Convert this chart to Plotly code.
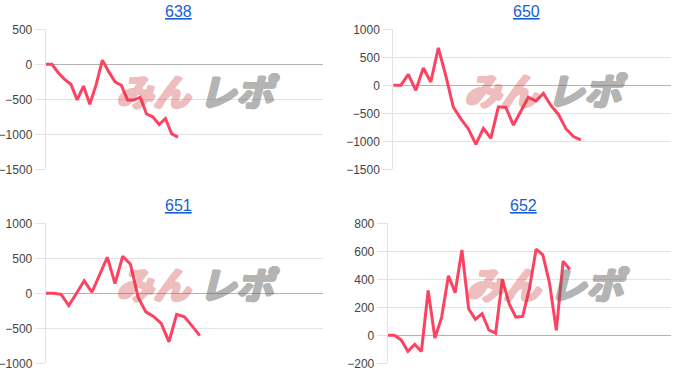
import plotly.graph_objects as go

titles = ["638", "650", "651", "652"]
s638 = [0, 0, -120, -215, -285, -510, -310, -570, -290, 60, -105, -250, -300, -510,
        -510, -470, -710, -750, -860, -775, -995, -1040]
s650 = [0, 0, 195, -90, 310, 60, 670, 170, -390, -600, -775, -1055, -770, -945, -385,
        -395, -710, -470, -215, -280, -145, -360, -520, -775, -915, -975]
s651 = [0, 0, -15, -175, 0, 180, 15, 270, 515, 140, 530, 415, -55, -265, -330, -430,
        -695, -300, -335, -465, -605]
s652 = [0, 0, -33, -115, -65, -115, 320, -20, 130, 425, 305, 610, 190, 115, 155, 38, 15,
        400, 225, 130, 135, 330, 615, 575, 370, 35, 530, 470]
series = [s638, s650, s651, s652]
x_max = [44, 37, 36, 42]
y_ranges = [[-1500, 500], [-1500, 1000], [-1000, 1000], [-200, 800]]
y_dticks = [500, 500, 500, 200]

W, H = 700, 388
# plot areas in pixels: (left, right, top, bottom)
areas = [(45.7, 323, 29.3, 169.3), (393.3, 671, 29.3, 169.3),
         (45.7, 323, 223.3, 363.3), (387.7, 671, 223.3, 363.3)]
wm_centers = [(195, 90), (543, 89), (195, 283), (545, 283)]

LINE = "#fd4262"
GRID = "#e3e3e3"


def heavy(color):
    offs = [(1, 0), (-1, 0), (0, 1), (0, -1), (1, 1), (-1, -1), (1, -1), (-1, 1), (2, 0)]
    return ", ".join(f"{dx}px {dy}px 0 {color}" for dx, dy in offs)


fig = go.Figure()
layout = dict(template="none", width=W, height=H, margin=dict(l=0, r=0, t=0, b=0, pad=0),
              paper_bgcolor="white", plot_bgcolor="white", showlegend=False,
              font=dict(family="Liberation Sans, Arial, sans-serif", size=12, color="#444"))
annotations = []
for i, (vals, (l, r, t, b)) in enumerate(zip(series, areas)):
    k = "" if i == 0 else str(i + 1)
    fig.add_trace(go.Scatter(x=list(range(len(vals))), y=vals, mode="lines",
                             line=dict(color=LINE, width=3),
                             xaxis="x" + k, yaxis="y" + k, hoverinfo="y"))
    layout["xaxis" + k] = dict(domain=[l / W, r / W], range=[0, x_max[i]],
                               anchor="y" + k, showgrid=False, zeroline=False,
                               showticklabels=False, showline=False, ticks="",
                               automargin=False, fixedrange=True)
    layout["yaxis" + k] = dict(domain=[1 - b / H, 1 - t / H], range=y_ranges[i],
                               anchor="x" + k, dtick=y_dticks[i], tick0=0,
                               showgrid=True, gridcolor=GRID, gridwidth=1,
                               zeroline=True, zerolinecolor="#b4b4b4", zerolinewidth=1,
                               showline=True, linecolor=GRID, linewidth=1,
                               ticks="outside", ticklen=10, tickcolor=GRID, tickwidth=1,
                               automargin=False,
                               tickfont=dict(size=12, color="#444"), fixedrange=True)
    annotations.append(dict(text="<u>" + titles[i] + "</u>", xref="paper", yref="paper",
                            x=((l + r) / 2 - 6) / W, y=1 - (t - 17.6) / H,
                            xanchor="center", yanchor="middle", showarrow=False,
                            font=dict(size=16, color="#1a5fd0")))
    cx, cy = wm_centers[i]
    annotations.append(dict(text="<i>みん</i>", xref="paper", yref="paper",
                            x=(cx - 2) / W, y=1 - cy / H, xanchor="right", yanchor="middle",
                            showarrow=False, opacity=0.32,
                            font=dict(family="Noto Sans CJK JP", size=37, weight="bold",
                                      color="rgb(205,55,55)", shadow=heavy("rgb(205,55,55)"))))
    annotations.append(dict(text="<i>レポ</i>", xref="paper", yref="paper",
                            x=(cx + 2) / W, y=1 - cy / H, xanchor="left", yanchor="middle",
                            showarrow=False, opacity=0.48,
                            font=dict(family="Noto Sans CJK JP", size=37, weight="bold",
                                      color="rgb(100,100,100)", shadow=heavy("rgb(100,100,100)"))))
layout["annotations"] = annotations
fig.update_layout(**layout)
fig.write_html("out.html")
